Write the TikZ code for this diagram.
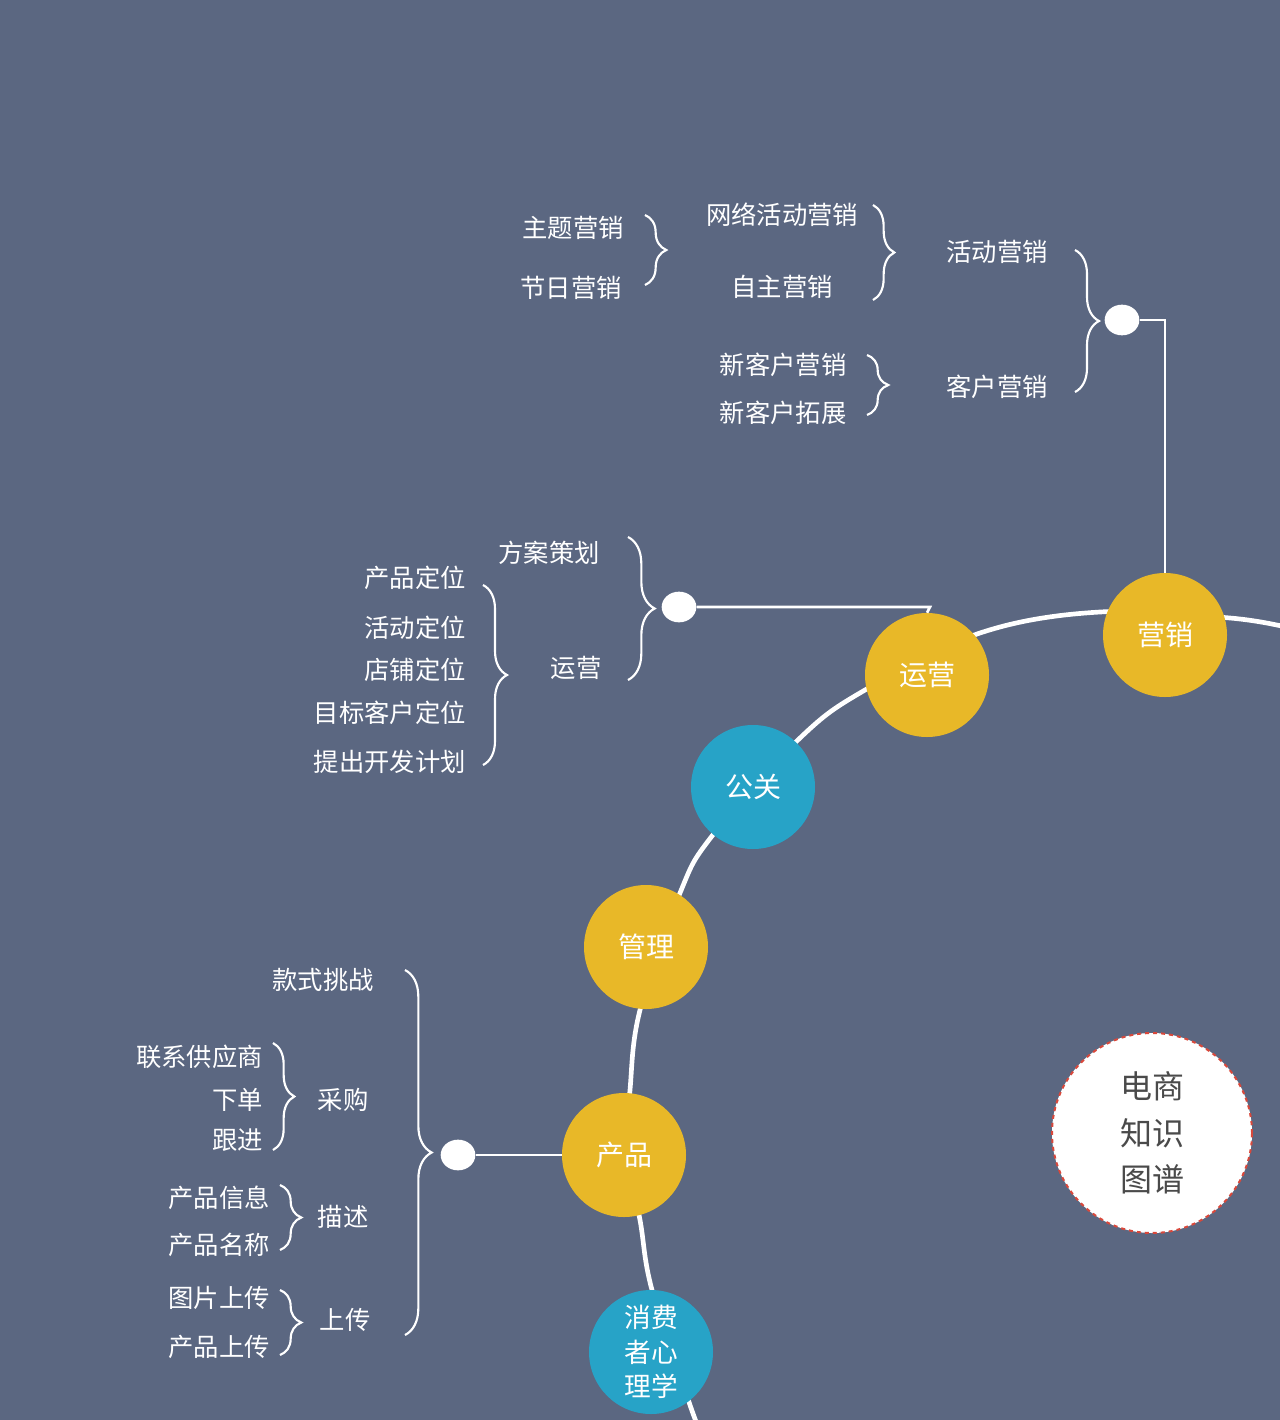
\documentclass[tikz,border=0pt]{standalone}
\usepackage{fontspec}
\newfontfamily\cjk{Noto Sans CJK SC}
\usetikzlibrary{decorations.pathreplacing,shapes.geometric}
\definecolor{bg}{HTML}{5B6781}
\definecolor{yel}{HTML}{E8B828}
\definecolor{blu}{HTML}{27A3C7}
\definecolor{txtg}{HTML}{4A4A4A}
\definecolor{redd}{HTML}{D9483B}
\begin{document}
\begin{tikzpicture}[x=0.75pt,y=-0.75pt,
  lbl/.style={text=white,font=\cjk\fontsize{19}{22}\selectfont,inner sep=0pt},
  ball/.style={circle,minimum size=93pt,inner sep=0pt,text=white,font=\cjk\fontsize{21}{24}\selectfont,align=center},
  dotn/.style={ellipse,fill=white,minimum width=26pt,minimum height=23pt,inner sep=0pt},
  br/.style={draw=white,line width=1.6pt,decorate,decoration={brace,amplitude=#1}},
  br/.default=14pt,
  wl/.style={draw=white,line width=2pt}]
\useasboundingbox (0,0) rectangle (1280,1420);
\fill[bg] (0,0) rectangle (1280,1420);
% main arc
\draw[white,line width=3.5pt] plot[smooth,tension=0.6] coordinates {(1290,628) (1230,618) (1100,612) (980,633) (865,690) (800,738) (712,836) (680,893) (640,1010) (630,1090) (627,1155) (640,1220) (652,1290) (690,1405) (700,1430)};
% connectors
\node[dotn] (d1) at (1122,320) {};
\node[dotn] (d2) at (679,607) {};
\node[dotn] (d3) at (458,1155) {};
\coordinate (c1) at (1165,320);
\coordinate (c2) at (930,607);
\node[ball,fill=yel] (yx) at (1165,635) {营销};
\node[ball,fill=yel] (yy) at (927,675) {运营};
\node[ball,fill=blu] (gg) at (753,787) {公关};
\node[ball,fill=yel] (gl) at (646,947) {管理};
\node[ball,fill=yel] (cp) at (624,1155) {产品};
\node[ball,fill=blu,font=\cjk\fontsize{20}{26}\selectfont] (xf) at (651,1352) {消费\\者心\\理学};
\draw[wl] (yx.north) -- (c1) -- (d1);
\draw[wl] (d2) -- (c2) -- (yy.north);
\draw[wl] (cp.west) -- (d3);
% brace groups 营销
\draw[br=18pt] (1075,250) -- (1075,392);
\node[lbl] (a1) at (997,252) {活动营销};
\node[lbl] (a2) at (997,387) {客户营销};
\draw[br=16pt] (873,205) -- (873,300);
\node[lbl] (a3) at (782,215) {网络活动营销};
\node[lbl] (a4) at (782,287) {自主营销};
\draw[br=16pt] (645,215) -- (645,285);
\node[lbl] (a5) at (573,228) {主题营销};
\node[lbl] (a6) at (571,288) {节日营销};
\draw[br=16pt] (867,355) -- (867,415);
\node[lbl] (a7) at (783,365) {新客户营销};
\node[lbl] (a8) at (783,413) {新客户拓展};
% 运营
\draw[br=20pt] (628,537) -- (628,680);
\node[lbl] (b1) at (549,553) {方案策划};
\node[lbl] (b2) at (576,668) {运营};
\draw[br=18pt] (483,585) -- (483,765);
\node[lbl,anchor=east] at (466,578) {产品定位};
\node[lbl,anchor=east] at (466,628) {活动定位};
\node[lbl,anchor=east] at (466,670) {店铺定位};
\node[lbl,anchor=east] at (466,713) {目标客户定位};
\node[lbl,anchor=east] at (466,762) {提出开发计划};
% 产品
\draw[br=20pt] (405,970) -- (405,1335);
\node[lbl] at (323,980) {款式挑战};
\node[lbl] at (343,1100) {采购};
\node[lbl] at (343,1217) {描述};
\node[lbl] at (345,1320) {上传};
\draw[br=16pt] (273,1043) -- (273,1150);
\node[lbl,anchor=east] at (263,1057) {联系供应商};
\node[lbl,anchor=east] at (263,1100) {下单};
\node[lbl,anchor=east] at (263,1140) {跟进};
\draw[br=16pt] (280,1185) -- (280,1250);
\node[lbl,anchor=east] at (270,1198) {产品信息};
\node[lbl,anchor=east] at (270,1245) {产品名称};
\draw[br=16pt] (280,1290) -- (280,1355);
\node[lbl,anchor=east] at (270,1298) {图片上传};
\node[lbl,anchor=east] at (270,1347) {产品上传};
% title
\node[circle,fill=white,draw=redd,dashed,line width=1.5pt,minimum size=150pt,text=txtg,font=\cjk\fontsize{24}{35}\selectfont,align=center] (t) at (1152,1133) {电商\\知识\\图谱};
\end{tikzpicture}
\end{document}
